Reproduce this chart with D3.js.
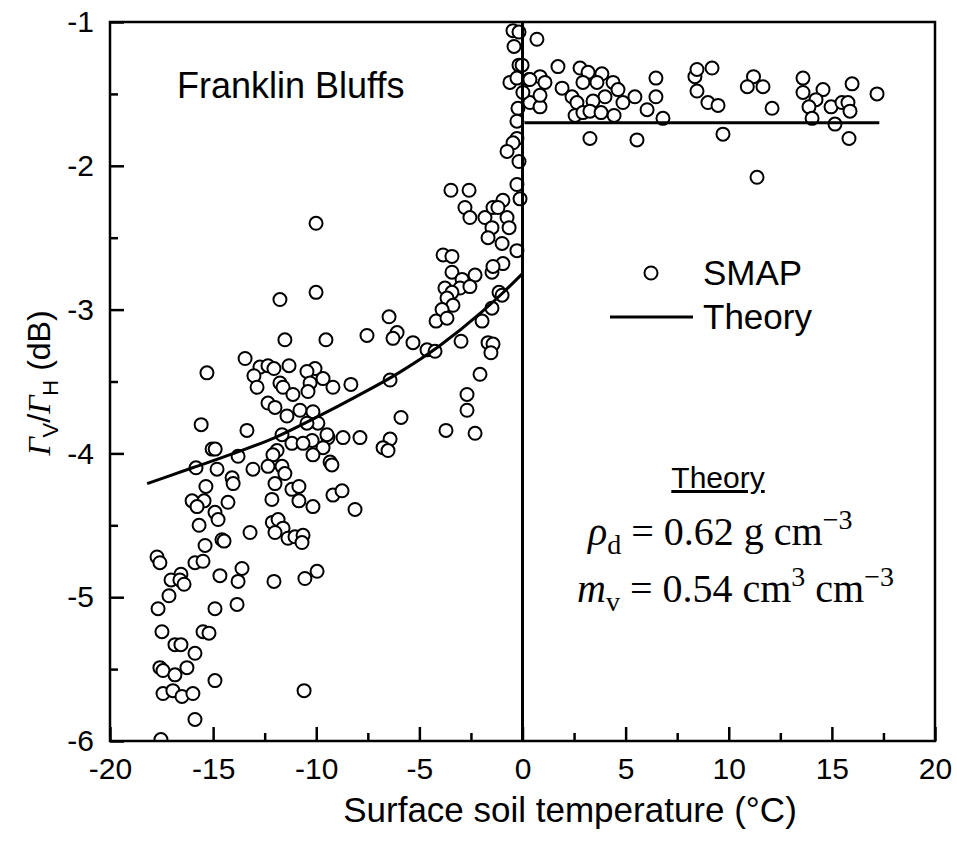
<!DOCTYPE html>
<html>
<head>
<meta charset="utf-8">
<script src="https://cdn.jsdelivr.net/npm/d3@7"></script>
<style>
  body { margin: 0; background: #fff; }
  text { font-family: "Liberation Sans", Arial, sans-serif; fill: #000; }
</style>
</head>
<body>
<div id="chart"></div>
<script>
// axis ticks
const xMajor = [-20, -15, -10, -5, 0, 5, 10, 15, 20];
const xMinor = [-17.5, -12.5, -7.5, -2.5, 2.5, 7.5, 12.5, 17.5];
const yMajor = [-1, -2, -3, -4, -5, -6];
const yMinor = [-1.5, -2.5, -3.5, -4.5, -5.5];

// theory curve (frozen side) and thawed level
const theoryT  = [-18.2, -16, -14, -12, -10, -8, -6, -4, -2, -1, 0];
const theoryDb = [-4.21, -4.10, -4.00, -3.89, -3.75, -3.60, -3.44, -3.25, -3.02, -2.89, -2.75];
const thawT  = [0.1, 17.3];
const thawDb = [-1.70, -1.70];

// SMAP points [temperature (C), ratio (dB)]
const thawedPts = [
  [0.70,-1.12],[1.72,-1.31],[2.79,-1.32],[3.18,-1.35],[3.85,-1.36],[0.32,-1.40],[0.85,-1.38],[1.09,-1.42],
  [1.92,-1.46],[2.40,-1.52],[2.64,-1.56],[2.93,-1.42],[3.61,-1.42],[4.39,-1.42],[4.63,-1.47],[4.00,-1.52],
  [3.42,-1.55],[4.87,-1.56],[5.45,-1.52],[6.47,-1.39],[6.47,-1.52],[6.04,-1.61],[6.81,-1.67],[0.36,-1.56],
  [0.85,-1.59],[2.55,-1.65],[2.93,-1.63],[3.27,-1.62],[3.81,-1.63],[4.44,-1.65],[3.27,-1.81],[5.55,-1.82],
  [8.36,-1.38],[8.46,-1.33],[9.19,-1.32],[8.46,-1.48],[8.99,-1.56],[9.48,-1.58],[9.72,-1.78],[11.20,-1.38],
  [10.90,-1.45],[11.66,-1.45],[12.10,-1.60],[11.37,-2.08],[13.60,-1.39],[13.60,-1.49],[14.57,-1.47],[14.23,-1.54],
  [13.89,-1.59],[14.96,-1.59],[14.04,-1.67],[15.15,-1.71],[15.49,-1.56],[15.78,-1.56],[15.98,-1.43],[15.88,-1.62],
  [15.83,-1.81],[17.19,-1.50],[-0.02,-1.30],[0.02,-1.49],[0.36,-1.40],[0.85,-1.51]
];
const nearZeroPts = [
  [-0.46,-1.06],[-0.17,-1.07],[-0.41,-1.17],[-0.17,-1.30],[-0.61,-1.42],[-0.27,-1.39],[-0.22,-1.60],[-0.27,-1.69],
  [-0.27,-1.81],[-0.46,-1.84],[-0.75,-1.90],[-0.17,-1.97],[-0.27,-2.13],[-0.12,-2.23],[-3.47,-2.17],[-2.59,-2.17],
  [-2.79,-2.29],[-2.55,-2.36],[-1.82,-2.36],[-1.43,-2.29],[-0.95,-2.24],[-1.19,-2.29],[-0.75,-2.36],[-1.48,-2.43],
  [-0.65,-2.43],[-1.67,-2.50],[-0.99,-2.54],[-0.27,-2.59],[-3.85,-2.62],[-3.42,-2.63],[-3.42,-2.74],[-2.93,-2.79],
  [-2.30,-2.76],[-1.48,-2.74],[-0.95,-2.68],[-3.76,-2.85],[-3.03,-2.85],[-2.55,-2.84],[-1.14,-2.88],[-1.43,-2.70],
  [-3.42,-2.88],[-3.66,-2.92],[-3.37,-2.97],[-3.90,-3.00],[-4.19,-3.08],[-3.66,-3.06],[-0.99,-2.90],[-1.48,-2.99],
  [-1.96,-3.08],[-2.98,-3.22],[-1.67,-3.23],[-1.43,-3.24],[-1.53,-3.30],[-2.06,-3.45],[-2.69,-3.59],[-2.69,-3.70],
  [-3.71,-3.84],[-2.30,-3.86]
];
const frozenPts = [
  [-10.01,-2.40],[-10.01,-2.88],[-11.76,-2.93],[-6.47,-3.05],[-6.08,-3.16],[-6.28,-3.20],[-7.54,-3.18],[-9.53,-3.21],
  [-11.52,-3.21],[-5.31,-3.23],[-4.63,-3.28],[-4.24,-3.29],[-6.42,-3.49],[-8.32,-3.52],[-9.19,-3.54],[-10.06,-3.41],
  [-10.45,-3.43],[-9.67,-3.48],[-10.30,-3.51],[-10.40,-3.57],[-5.89,-3.75],[-10.79,-3.70],[-10.16,-3.71],[-9.92,-3.79],
  [-8.70,-3.89],[-7.88,-3.89],[-9.43,-3.89],[-10.20,-3.91],[-9.67,-3.96],[-6.42,-3.90],[-6.76,-3.96],[-6.52,-3.98],
  [-10.16,-4.01],[-9.33,-4.06],[-9.24,-4.08],[-13.45,-3.34],[-12.73,-3.40],[-12.34,-3.39],[-12.05,-3.41],[-11.32,-3.39],
  [-13.02,-3.46],[-12.87,-3.54],[-11.76,-3.51],[-11.61,-3.54],[-11.13,-3.59],[-15.30,-3.44],[-12.34,-3.65],[-12.00,-3.68],
  [-11.42,-3.74],[-10.45,-3.79],[-15.58,-3.80],[-13.36,-3.84],[-11.66,-3.87],[-11.18,-3.93],[-11.90,-3.98],[-12.10,-4.01],
  [-10.64,-3.93],[-9.48,-3.87],[-15.05,-3.97],[-14.90,-3.97],[-13.79,-4.02],[-13.07,-4.11],[-12.34,-4.09],[-11.66,-4.09],
  [-11.52,-4.14],[-12.00,-4.21],[-15.83,-4.10],[-14.81,-4.11],[-14.08,-4.17],[-14.03,-4.21],[-15.35,-4.23],[-16.02,-4.33],
  [-15.44,-4.33],[-14.28,-4.34],[-12.15,-4.32],[-11.18,-4.25],[-10.84,-4.23],[-10.84,-4.33],[-10.16,-4.37],[-9.19,-4.29],
  [-8.75,-4.26],[-8.12,-4.39],[-15.78,-4.37],[-14.91,-4.41],[-14.76,-4.46],[-15.68,-4.50],[-13.21,-4.55],[-14.57,-4.60],
  [-14.47,-4.61],[-15.39,-4.64],[-12.13,-4.48],[-11.85,-4.46],[-11.61,-4.52],[-12.00,-4.55],[-11.37,-4.59],[-11.03,-4.58],
  [-10.64,-4.57],[-10.69,-4.62],[-17.72,-4.72],[-17.58,-4.76],[-15.88,-4.76],[-15.49,-4.75],[-16.56,-4.84],[-17.04,-4.88],
  [-16.61,-4.88],[-16.41,-4.91],[-14.67,-4.85],[-13.60,-4.80],[-13.79,-4.89],[-12.05,-4.89],[-10.55,-4.87],[-9.96,-4.82],
  [-17.14,-4.99],[-17.67,-5.08],[-14.91,-5.08],[-13.84,-5.05],[-17.48,-5.24],[-15.49,-5.24],[-15.20,-5.25],[-16.85,-5.33],
  [-16.56,-5.33],[-15.88,-5.39],[-17.58,-5.49],[-17.43,-5.51],[-16.27,-5.49],[-16.85,-5.54],[-14.91,-5.58],[-17.43,-5.67],
  [-16.95,-5.65],[-16.51,-5.69],[-15.98,-5.67],[-10.59,-5.65],[-15.88,-5.85],[-17.53,-5.99]
];

// set the dimensions and margins of the graph
const margin = {top: 22, right: 22, bottom: 101, left: 110},
    width = 957 - margin.left - margin.right,
    height = 842 - margin.top - margin.bottom;

const svg = d3.select("#chart")
  .append("svg")
    .attr("width", 957)
    .attr("height", 842)
  .append("g")
    .attr("transform", `translate(${margin.left}, ${margin.top})`);

const x = d3.scaleLinear().domain([-20, 20]).range([0, width]);
const y = d3.scaleLinear().domain([-6, -1]).range([height, 0]);

svg.append("clipPath").attr("id", "plot-clip")
  .append("rect").attr("width", width).attr("height", height);

// minor ticks (inward)
svg.append("g")
    .attr("transform", `translate(0,${height})`)
    .call(d3.axisBottom(x).tickValues(xMinor).tickSize(-8).tickFormat(""));
svg.append("g")
    .call(d3.axisLeft(y).tickValues(yMinor).tickSize(-8).tickFormat(""));

// major ticks with labels
svg.append("g")
    .attr("class", "x axis")
    .attr("transform", `translate(0,${height})`)
    .call(d3.axisBottom(x).tickValues(xMajor).tickSize(-14).tickPadding(17).tickFormat(d3.format("d")));
svg.append("g")
    .attr("class", "y axis")
    .call(d3.axisLeft(y).tickValues(yMajor).tickSize(-14).tickPadding(16).tickFormat(d3.format("d")));

svg.selectAll(".axis .tick text")
    .style("font-size", "30px")
    .style("font-family", "'Liberation Sans', Arial, sans-serif")
    .text(d => String(d).replace("\u2212", "-"));
svg.selectAll(".domain").remove();
svg.selectAll(".tick line").attr("stroke", "#000").attr("stroke-width", 2.5);

// Add dots
const allPts = frozenPts.concat(nearZeroPts, thawedPts);
svg.append("g")
    .attr("clip-path", "url(#plot-clip)")
  .selectAll("circle")
  .data(allPts)
  .enter()
  .append("circle")
    .attr("cx", d => x(d[0]))
    .attr("cy", d => y(d[1]))
    .attr("r", 6.5)
    .attr("fill", "#fff")
    .attr("stroke", "#000")
    .attr("stroke-width", 2);

// theory lines
const line = d3.line().x(d => x(d[0])).y(d => y(d[1])).curve(d3.curveMonotoneX);
svg.append("path")
    .datum(theoryT.map((t, i) => [t, theoryDb[i]]))
    .attr("d", line)
    .attr("fill", "none").attr("stroke", "#000").attr("stroke-width", 3);
svg.append("path")
    .datum(thawT.map((t, i) => [t, thawDb[i]]))
    .attr("d", d3.line().x(d => x(d[0])).y(d => y(d[1])))
    .attr("fill", "none").attr("stroke", "#000").attr("stroke-width", 3);
svg.append("line")
    .attr("x1", x(0)).attr("x2", x(0))
    .attr("y1", y(-6)).attr("y2", y(-1))
    .attr("stroke", "#000").attr("stroke-width", 3);

// frame
svg.append("rect")
    .attr("width", width).attr("height", height)
    .attr("fill", "none").attr("stroke", "#000").attr("stroke-width", 2.5);

// site name
svg.append("text")
    .attr("x", 177 - margin.left).attr("y", 98 - margin.top)
    .style("font-size", "36px")
    .text("Franklin Bluffs");

// legend
svg.append("circle")
    .attr("cx", 651 - margin.left).attr("cy", 273 - margin.top).attr("r", 6.5)
    .attr("fill", "#fff").attr("stroke", "#000").attr("stroke-width", 2);
svg.append("text").attr("x", 703 - margin.left).attr("y", 285 - margin.top)
    .style("font-size", "35px").text("SMAP");
svg.append("line")
    .attr("x1", 610 - margin.left).attr("x2", 693 - margin.left)
    .attr("y1", 317 - margin.top).attr("y2", 317 - margin.top)
    .attr("stroke", "#000").attr("stroke-width", 3);
svg.append("text").attr("x", 703 - margin.left).attr("y", 329 - margin.top)
    .style("font-size", "35px").text("Theory");

// theory parameters box
svg.append("text")
    .attr("x", 718 - margin.left).attr("y", 488 - margin.top)
    .attr("text-anchor", "middle")
    .style("font-size", "30px")
    .style("text-decoration", "underline")
    .text("Theory");

const eq1 = svg.append("text")
    .attr("x", 588 - margin.left).attr("y", 545 - margin.top)
    .style("font-family", "'Liberation Serif', 'DejaVu Serif', serif")
    .style("font-size", "40px");
eq1.append("tspan").style("font-style", "italic").text("ρ");
eq1.append("tspan").attr("dy", 9).style("font-size", "28px").text("d");
eq1.append("tspan").attr("dy", -9).text(" = 0.62 g cm");
eq1.append("tspan").attr("dy", -16).style("font-size", "28px").text("−3");

const eq2 = svg.append("text")
    .attr("x", 577 - margin.left).attr("y", 602 - margin.top)
    .style("font-family", "'Liberation Serif', 'DejaVu Serif', serif")
    .style("font-size", "40px");
eq2.append("tspan").style("font-style", "italic").text("m");
eq2.append("tspan").attr("dy", 9).style("font-size", "28px").text("v");
eq2.append("tspan").attr("dy", -9).text(" = 0.54 cm");
eq2.append("tspan").attr("dy", -16).style("font-size", "28px").text("3");
eq2.append("tspan").attr("dy", 16).text(" cm");
eq2.append("tspan").attr("dy", -16).style("font-size", "28px").text("−3");

// x axis title
svg.append("text")
    .attr("x", 570 - margin.left).attr("y", 822 - margin.top)
    .attr("text-anchor", "middle")
    .style("font-size", "35px")
    .text("Surface soil temperature (°C)");

// y axis title
const yTitle = svg.append("text")
    .attr("transform", `translate(${50 - margin.left},${383 - margin.top}) rotate(-90)`)
    .attr("text-anchor", "middle")
    .style("font-size", "32px");
yTitle.append("tspan").style("font-family", "'Liberation Serif', serif").style("font-style", "italic").text("Γ");
yTitle.append("tspan").attr("dy", 8).style("font-size", "22px").text("V");
yTitle.append("tspan").attr("dy", -8).text("/");
yTitle.append("tspan").style("font-family", "'Liberation Serif', serif").style("font-style", "italic").text("Γ");
yTitle.append("tspan").attr("dy", 8).style("font-size", "22px").text("H");
yTitle.append("tspan").attr("dy", -8).text(" (dB)");
</script>
</body>
</html>
